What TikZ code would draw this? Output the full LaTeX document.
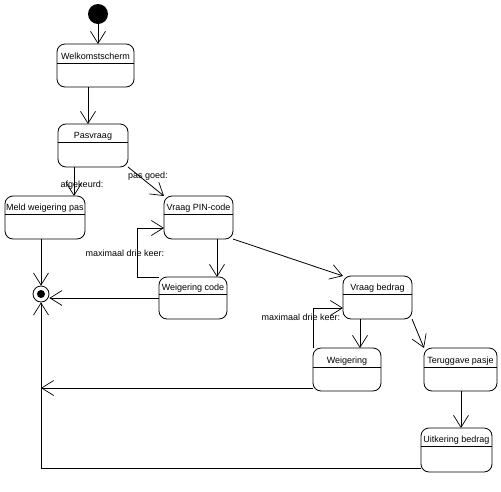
\documentclass[tikz,border=0pt]{standalone}
\usepackage{fontspec}
\setmainfont{Liberation Sans}
\usetikzlibrary{arrows.meta}
\begin{document}
\begin{tikzpicture}[x=1pt,y=-1pt,line width=0.8pt,
  sbox/.style={draw,rounded corners=8pt,inner sep=0pt,outer sep=0pt},
  tr/.style={-{Straight Barb[length=12pt,width=15pt,line width=0.7pt]}},
  lbl/.style={font=\fontsize{9}{10}\selectfont,inner sep=0pt},
  ttl/.style={font=\fontsize{9}{10}\selectfont,inner sep=0pt,anchor=base}]
\useasboundingbox (0,0) rectangle (501,491);
\newcommand\stbox[7]{%
  \node[sbox,minimum width={(#4-#2)*1pt},minimum height={(#5-#3)*1pt}] (#1) at ({(#2+#4)/2},{(#3+#5)/2}) {};
  \draw ({#2},{#6}) -- ({#4},{#6});
  \node[ttl] at ({(#2+#4)/2},{#6-4}) {#7};}
% states
\node[circle,fill=black,minimum size=20pt,inner sep=0pt] (init) at (98,14) {};
\stbox{welk}{57}{44}{134}{87}{63}{Welkomstscherm}
\stbox{pas}{58}{124}{128}{167}{142}{Pasvraag}
\stbox{meld}{5}{196}{85}{239}{214}{Meld weigering pas}
\stbox{pin}{164}{196}{233}{239}{214}{Vraag PIN-code}
\stbox{wcode}{159}{277}{227}{319}{294}{Weigering code}
\stbox{vb}{343}{276}{412}{319}{294}{Vraag bedrag}
\stbox{weig}{313}{348}{381}{391}{367}{Weigering}
\stbox{ter}{424}{348}{497}{391}{367}{Teruggave pasje}
\stbox{uit}{421}{428}{492}{472}{446}{Uitkering bedrag}
\node[circle,draw,minimum size=16pt,inner sep=0pt] (fin) at (41,294) {};
\node[circle,fill=black,minimum size=8pt,inner sep=0pt] (findot) at (fin.center) {};
% coordinates
\coordinate (l1) at (137,228);
\coordinate (l2) at (313,308);
\coordinate (b1) at (41,468);
\coordinate (b2) at (41,388);
% transitions
\draw[tr] (init.south) -- (init.south |- welk.north);
\draw[tr] (welk.south -| 88,0) -- (pas.north -| 88,0);
\draw[tr] (pas.south -| 74,0) -- (meld.north -| 74,0);
\draw[tr] (pas.south east) -- (pin.north west);
\draw[tr] (pin.south -| 217,0) -- (wcode.north -| 217,0);
\draw[tr] (wcode.north west) -| (l1) -- (l1 -| pin.west);
\draw[tr] (pin.south east) -- (vb.north west);
\draw[tr] (wcode.west) -- (wcode.west -| fin.east);
\draw[tr] (fin.north |- meld.south) -- (fin.north);
\draw[tr] (b1 -| uit.west) -- (b1) -- (fin.south);
\draw[tr] (b2 -| weig.west) -- (b2);
\draw[tr] (vb.south -| 360,0) -- (weig.north -| 360,0);
\draw[tr] (weig.north west) -- (l2) -- (l2 -| vb.west);
\draw[tr] (vb.south east) -- (ter.north west);
\draw[tr] (ter.south -| 461,0) -- (uit.north -| 461,0);
% labels
\node[lbl] (lafg) at (82,185) {afgekeurd:};
\node[lbl] (lpas) at (148,176) {pas goed:};
\node[lbl] (lmax1) at (125,253) {maximaal drie keer:};
\node[lbl] (lmax2) at (301,317) {maximaal drie keer:};
\end{tikzpicture}
\end{document}
